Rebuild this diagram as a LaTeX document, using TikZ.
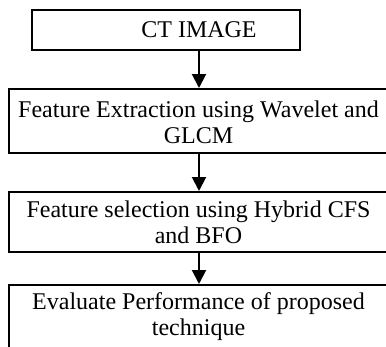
\documentclass[tikz,border=0pt]{standalone}
\usepackage{fontspec}
\setmainfont{Liberation Serif}
\usetikzlibrary{arrows.meta}
\begin{document}
\begin{tikzpicture}[x=1pt,y=1pt,
  box/.style={draw=black, line width=2pt, inner sep=0pt},
  txt/.style={font=\fontsize{24}{26}\selectfont, align=center, inner sep=0pt},
  arr/.style={line width=2pt, -{Triangle[length=14pt,width=14pt]}}]
\useasboundingbox (0,0) rectangle (386,-346);
\clip (0,0) rectangle (386,-346);
\node[box, minimum width=268pt, minimum height=40pt] (b1) at (166,-30) {};
\node[txt] (t1) at (199,-30) {CT IMAGE};
\node[box, minimum width=379pt, minimum height=64pt] (b2) at (198.5,-121) {};
\node[txt] (t2) at (198.5,-122) {Feature Extraction using Wavelet and\\GLCM};
\node[box, minimum width=379pt, minimum height=60pt] (b3) at (198.5,-222) {};
\node[txt] (t3) at (198.5,-222) {Feature selection using Hybrid CFS\\and BFO};
\node[box, minimum width=379pt, minimum height=80pt] (b4) at (198.5,-325) {};
\node[txt] (t4) at (198.5,-317) {Evaluate Performance of proposed\\technique};
\draw[arr] (t1 |- b1.south) -- (t1 |- b2.north);
\draw[arr] (t1 |- b2.south) -- (t1 |- b3.north);
\draw[arr] (t1 |- b3.south) -- (t1 |- b4.north);
\end{tikzpicture}
\end{document}
